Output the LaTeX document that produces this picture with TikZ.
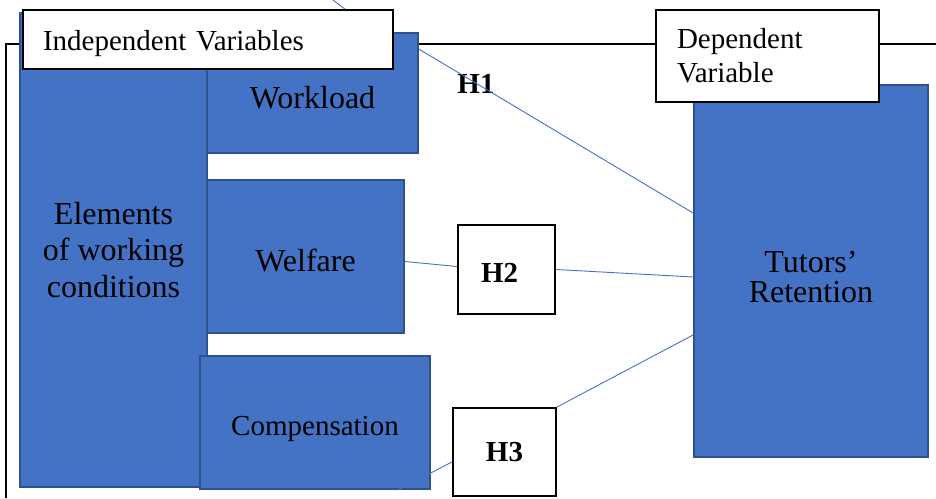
\documentclass[tikz,border=0pt]{standalone}
\usepackage{fontspec}
\setmainfont{Liberation Serif}
\usepackage{tikz}
\definecolor{boxblue}{RGB}{68,114,196}
\definecolor{edgeblue}{RGB}{47,82,143}
\usetikzlibrary{positioning}

\begin{document}
\begin{tikzpicture}[x=1pt, y=-1pt,
		varbox/.style={draw=edgeblue, line width=1.8pt, fill=boxblue, inner sep=0pt, align=center, font=\fontsize{32}{36.5}\selectfont},
		labelbox/.style={draw=black, line width=1.2pt, fill=white, inner ysep=0pt, align=left},
		hypbox/.style={draw=black, line width=2.2pt, fill=white, inner sep=0pt, font=\fontsize{29}{35}\selectfont\bfseries},
		link/.style={draw=boxblue, line width=0.9pt},
		font=\fontsize{29}{35}\selectfont]
		\useasboundingbox (0,0) rectangle (936,498);
		% Rahmen
		\draw[line width=2pt] (6,498) -- (6,44) -- (936,44);
		% Variablen
		\node[varbox, minimum width=187, minimum height=474] (elements) at (113.5,250) {Elements\\of working\\conditions};
		\node[varbox, minimum width=211, minimum height=120, text height=30pt, text depth=0pt] (workload) at (312.5,93) {Workload};
		\node[varbox, minimum width=197, minimum height=153, text height=30pt, text depth=0pt] (welfare) at (305.5,256.5) {Welfare};
		\node[varbox, minimum width=230, minimum height=133, font=\fontsize{29}{35}\selectfont, text height=32pt, text depth=6pt] (compensation) at (315,422.5) {Compensation};
		\node[varbox, minimum width=234, minimum height=372, font=\fontsize{32}{30}\selectfont, text height=63pt, text depth=0pt] (retention) at (811,271) {Tutors’\\Retention};
		% Hypothesen
		\node[hypbox, minimum width=97, minimum height=89, align=left, text width=51, inner xsep=23, text height=25pt, text depth=0pt] (h2) at (506.5,269.5) {H2};
		\node[hypbox, minimum width=103, minimum height=88] (h3) at (504.5,452) {H3};
		\node[font=\fontsize{29}{35}\selectfont\bfseries] (h1) at (476,84) {H1};
		% Verbindungen
		\coordinate (topend) at (333,0);
		\coordinate (topin) at (350,13);
		\coordinate (h3end) at (398,490);
		\draw[link] (topend) -- (topin);
		\draw[link] ([yshift=-17pt]workload.north east) -- ([yshift=58pt]retention.west);
		\draw[link] ([yshift=-5pt]welfare.east) -- ([yshift=3pt]h2.west);
		\draw[link] (h2.east) -- ([yshift=-6pt]retention.west);
		\draw[link] (h3.north east) -- ([yshift=-64pt]retention.west);
		\draw[link] ([yshift=-10pt]h3.west) -- (h3end);
		% Beschriftung
		\node[labelbox, text width=330, inner xsep=20, minimum height=59, text height=28pt, text depth=6pt] (indep) at (208,39.5) {Independent Variables};
		\node[labelbox, text width=181, inner xsep=21, minimum height=92, font=\fontsize{29}{34}\selectfont] (dep) at (767.5,56) {Dependent\\Variable};
	\end{tikzpicture}
\end{document}
